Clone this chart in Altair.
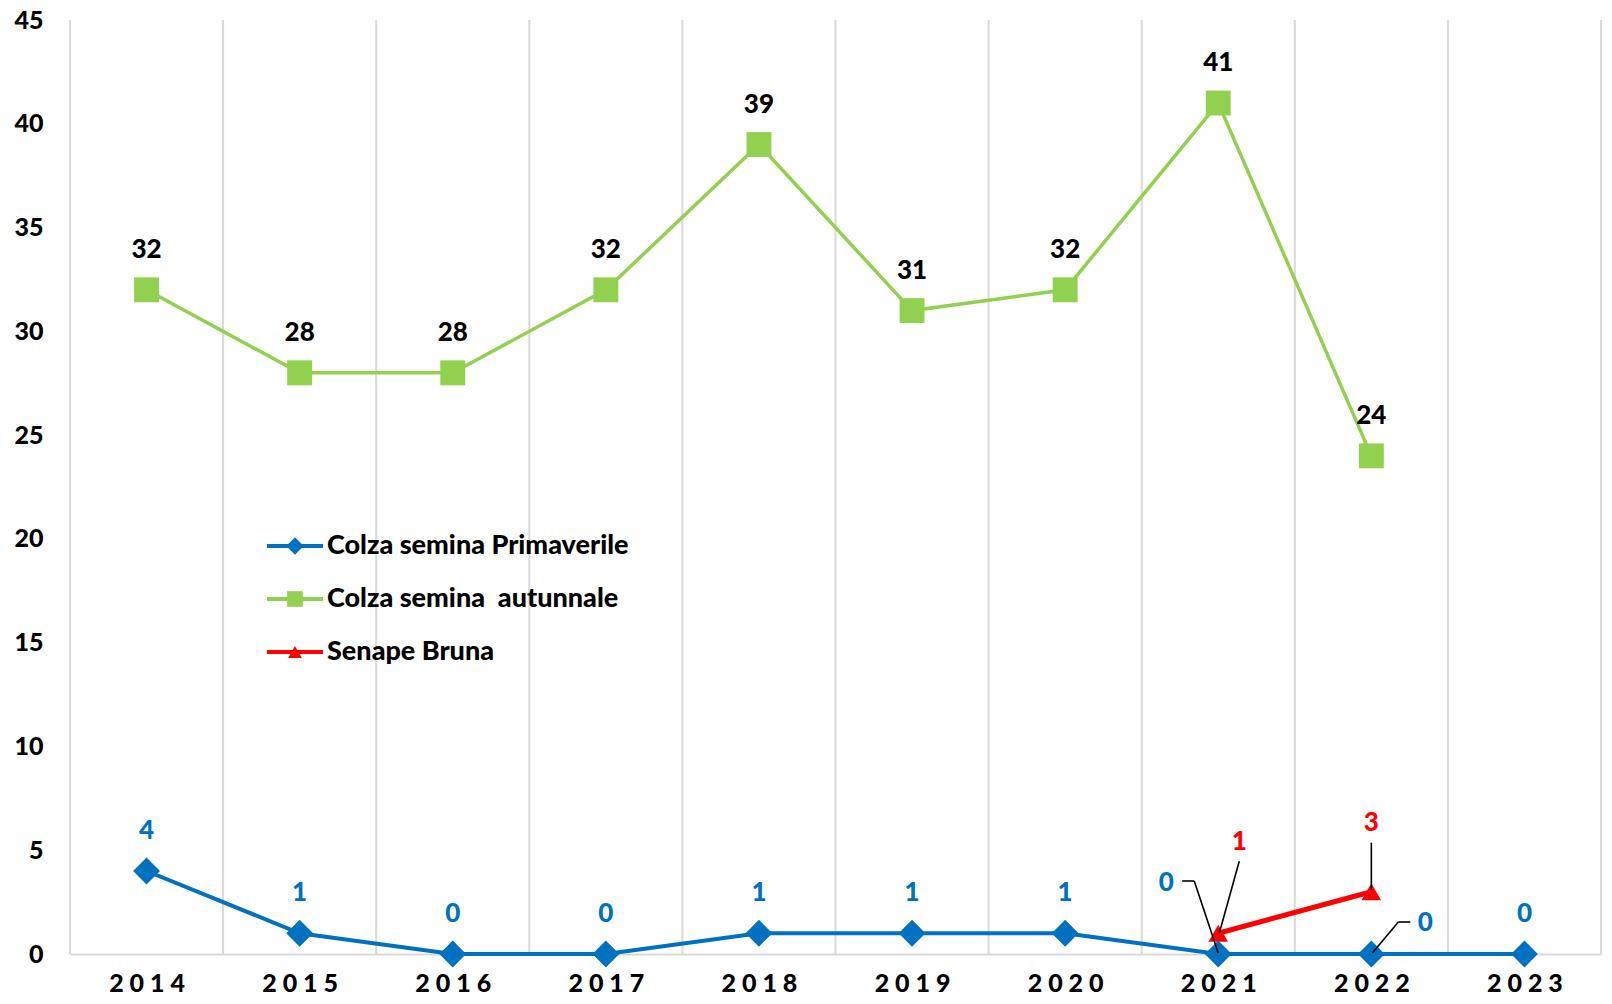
import altair as alt
import pandas as pd

# ---------------- data ----------------
years = [2014, 2015, 2016, 2017, 2018, 2019, 2020, 2021, 2022, 2023]
primaverile = [4, 1, 0, 0, 1, 1, 1, 0, 0, 0]
years_aut = [2014, 2015, 2016, 2017, 2018, 2019, 2020, 2021, 2022]
autunnale = [32, 28, 28, 32, 39, 31, 32, 41, 24]
years_sen = [2021, 2022]
senape = [1, 3]
series_names = ["Colza semina Primaverile", "Colza semina \u00a0autunnale", "Senape Bruna"]
boundaries = [2013.5 + i for i in range(11)]
y_ticks = [0, 5, 10, 15, 20, 25, 30, 35, 40, 45]
y_min, y_max = 0, 45

# ---------------- style ----------------
FONT = "Lato"
BLUE = "#0070C0"
GREEN = "#92D050"
RED = "#FF0000"
GRID = "#D9D9D9"
FS = 26
FS_LEG = 27
FS_AX = 25
FW = 900

blue_df = pd.DataFrame({"year": years, "value": primaverile})
green_df = pd.DataFrame({"year": years_aut, "value": autunnale})
red_df = pd.DataFrame({"year": years_sen, "value": senape})
grid_df = pd.DataFrame({"year": boundaries})
legend_df = pd.DataFrame({"series": series_names, "row": [0, 1, 2]})

x_scale = alt.Scale(domain=[2013.5, 2023.5], nice=False, zero=False)
y_scale = alt.Scale(domain=[y_min, y_max], nice=False)

x_axis = alt.Axis(
    values=years, format="d", labelExpr="join(split(datum.label, ''), ' ')",
    ticks=False, grid=False, domain=True, domainColor=GRID, domainWidth=2,
    labelFont=FONT, labelFontSize=FS_AX, labelFontWeight=FW, labelColor="black",
    labelPadding=17, title=None,
)
y_axis = alt.Axis(
    values=y_ticks, ticks=False, grid=False, domain=False,
    labelFont=FONT, labelFontSize=FS_AX, labelFontWeight=FW, labelColor="black",
    labelPadding=27, title=None,
)


def X(field="year"):
    return alt.X(f"{field}:Q", scale=x_scale, axis=x_axis)


def Y(field="value"):
    return alt.Y(f"{field}:Q", scale=y_scale, axis=y_axis)


text_kw = dict(font=FONT, fontSize=FS, fontWeight=FW, baseline="middle", align="center")

layers = []

# vertical gridlines (full plot height)
layers.append(
    alt.Chart(grid_df)
    .transform_calculate(lo=str(y_min), hi=str(y_max))
    .mark_rule(color=GRID, strokeWidth=2)
    .encode(x=X(), y=Y("lo"), y2="hi:Q")
)

# lines
layers.append(alt.Chart(green_df).mark_line(color=GREEN, strokeWidth=3.5).encode(x=X(), y=Y()))
layers.append(alt.Chart(blue_df).mark_line(color=BLUE, strokeWidth=4).encode(x=X(), y=Y()))
layers.append(alt.Chart(red_df).mark_line(color=RED, strokeWidth=5).encode(x=X(), y=Y()))

# markers
layers.append(alt.Chart(green_df).mark_point(shape="square", filled=True, size=620, color=GREEN, opacity=1).encode(x=X(), y=Y()))
layers.append(alt.Chart(blue_df).mark_point(shape="diamond", filled=True, size=720, color=BLUE, opacity=1).encode(x=X(), y=Y()))
layers.append(alt.Chart(red_df).mark_point(shape="triangle-up", filled=True, size=380, color=RED, opacity=1).encode(x=X(), y=Y()))

# labels (default placement)
layers.append(alt.Chart(green_df).mark_text(color="black", dy=-40, **text_kw).encode(x=X(), y=Y(), text="value:Q"))
layers.append(
    alt.Chart(blue_df).transform_filter("datum.year < 2021 || datum.year == 2023")
    .mark_text(color=BLUE, dy=-40, **text_kw).encode(x=X(), y=Y(), text="value:Q")
)


# labels with leader lines
def special(df, year, color, dx, dy, segs):
    base = alt.Chart(df).transform_filter(f"datum.year == {year}")
    out = [base.mark_text(color=color, dx=dx, dy=dy, **text_kw).encode(x=X(), y=Y(), text="value:Q")]
    for (ax, ay), (bx, by) in segs:
        out.append(
            base.mark_rule(color="black", strokeWidth=1.6, xOffset=ax, yOffset=ay, x2Offset=bx, y2Offset=by)
            .encode(x=X(), y=Y(), x2="year:Q", y2="value:Q")
        )
    return out


layers += special(blue_df, 2021, BLUE, -52, -71, [((-36, -73), (-24, -73)), ((-24, -73), (0, -1))])
layers += special(red_df, 2021, RED, 21, -91, [((21, -72), (1, 0))])
layers += special(red_df, 2022, RED, 0, -69, [((0, -49), (0, -2))])
layers += special(blue_df, 2022, BLUE, 54, -31, [((39, -32), (27, -32)), ((27, -32), (1, -1))])

main = alt.layer(*layers)

# ---------------- custom legend ----------------
color_scale = alt.Scale(domain=series_names, range=[BLUE, GREEN, RED])
shape_scale = alt.Scale(domain=series_names, range=["diamond", "square", "triangle-up"])
size_scale = alt.Scale(domain=series_names, range=[300, 190, 260])

leg_base = alt.Chart(legend_df).transform_calculate(py="526 + datum.row * 53")
leg_y = alt.Y("py:Q", scale=None, axis=None)
leg_line = leg_base.mark_rule(strokeWidth=4).encode(
    x=alt.value(197), x2=alt.value(253), y=leg_y,
    color=alt.Color("series:N", scale=color_scale, legend=None),
)
leg_pt = leg_base.mark_point(filled=True, opacity=1).encode(
    x=alt.value(225), y=leg_y,
    color=alt.Color("series:N", scale=color_scale, legend=None),
    shape=alt.Shape("series:N", scale=shape_scale, legend=None),
    size=alt.Size("series:N", scale=size_scale, legend=None),
)
leg_txt = leg_base.mark_text(font=FONT, fontSize=FS_LEG, fontWeight=FW, align="left", baseline="middle", color="black").encode(
    x=alt.value(257), y=leg_y, text="series:N"
)
legend = alt.layer(leg_line, leg_pt, leg_txt)

chart = (
    alt.layer(main, legend)
    .resolve_scale(x="independent", y="independent", color="independent", shape="independent", size="independent")
    .properties(
        width=1596, height=988,
        autosize=alt.AutoSizeParams(type="fit", contains="padding"),
        padding={"left": 5, "top": 0, "right": 2, "bottom": 0},
    )
    .configure_view(stroke=None)
)

chart.save("out.html", embed_options={"renderer": "svg", "actions": False})
